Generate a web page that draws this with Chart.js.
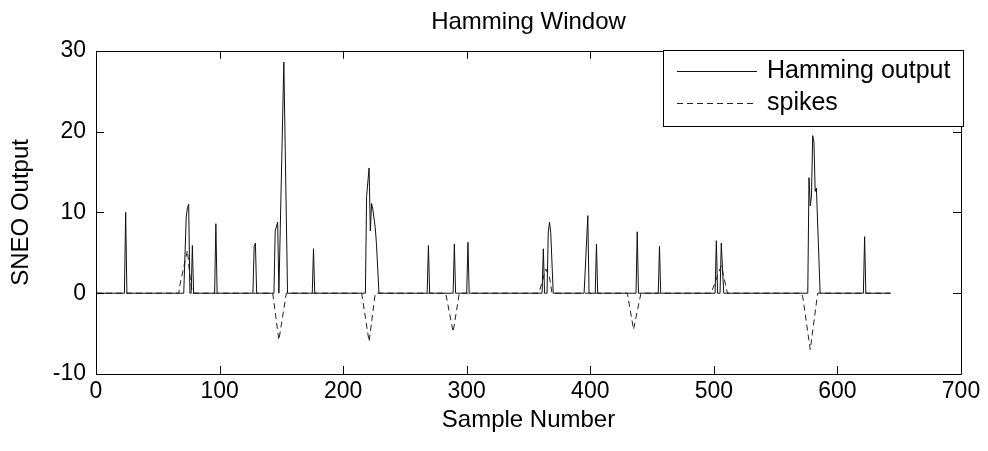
<!DOCTYPE html>
<html>
<head>
<meta charset="utf-8">
<title>Hamming Window</title>
<script src="https://cdn.jsdelivr.net/npm/chart.js@4/dist/chart.umd.min.js"></script>
<style>
  html, body { margin: 0; padding: 0; background: #fff; }
  #wrap { width: 988px; height: 451px; }
</style>
</head>
<body>
<div id="wrap"><canvas id="chart" width="988" height="451"></canvas></div>
<script>
// SNEO output after Hamming-window smoothing (sample number, value)
const hammingX = [
  0, 23, 24, 25,
  71, 73, 74, 75, 76, 77, 78, 79,
  96, 97, 98,
  127, 128, 129, 130,
  144, 145, 147, 148, 152, 155,
  175, 176, 177,
  218, 219, 221, 222, 223, 224, 226, 227, 229,
  268, 269, 270,
  289, 290, 291,
  300, 301, 302,
  361, 362, 363, 365, 366, 367, 368, 370,
  395, 398, 399,
  404, 405, 406,
  437, 438, 439,
  455, 456, 457,
  501, 502, 503, 505, 506, 508,
  576, 577, 578, 579, 580, 581, 582, 583, 586,
  621, 622, 623,
  643
];
const hammingY = [
  0, 0, 10, 0,
  0, 9.4, 10.6, 11, 0, 0, 5.9, 0,
  0, 8.6, 0,
  0, 5.8, 6.2, 0,
  0, 7.7, 8.8, 0, 28.6, 0,
  0, 5.5, 0,
  0, 12, 15.5, 7.7, 11.1, 10.4, 8.1, 6, 0,
  0, 5.9, 0,
  0, 6.1, 0,
  0, 6.3, 0,
  0, 5.5, 0, 0, 7.6, 8.8, 7.5, 0,
  0, 9.6, 0,
  0, 6.1, 0,
  0, 7.6, 0,
  0, 5.8, 0,
  0, 6.5, 0, 0, 6.2, 0,
  0, 14.3, 10.8, 12, 19.5, 18.7, 12.6, 13, 0,
  0, 7, 0,
  0
];

// Reference spike waveforms (sample number, value)
const spikesX = [
  0, 67, 68, 74, 76, 78,
  143, 148, 153, 154,
  215, 221, 225, 226,
  283, 289, 294,
  358, 359, 364, 367, 369,
  430, 435, 441,
  498, 499, 506, 510, 511,
  571, 572, 578, 584,
  643
];
const spikesY = [
  0, 0, 1.1, 5.3, 2, 0,
  0, -5.8, -1, 0,
  0, -6, -1.2, 0,
  0, -4.8, 0,
  0, 0.3, 3.0, 2.0, 0,
  0, -4.5, 0,
  0, 0.5, 3.4, 0.7, 0,
  0, -0.5, -7, 0,
  0
];

const xTicks = [0, 100, 200, 300, 400, 500, 600, 700];
const yTicks = [-10, 0, 10, 20, 30];

const seriesNames = ['Hamming output', 'spikes'];

const FONT = 'Liberation Sans, Arial, sans-serif';

function toPoints(xs, ys) {
  return xs.map((x, i) => ({ x: x, y: ys[i] }));
}

// Boxed axes with inward tick marks on all four sides
const axesBox = {
  id: 'axesBox',
  afterDatasetsDraw(chart) {
    const { ctx, chartArea: a, scales } = chart;
    const len = 8;
    ctx.save();
    ctx.strokeStyle = '#000';
    ctx.lineWidth = 1;
    ctx.beginPath();
    ctx.rect(Math.round(a.left) + 0.5, Math.round(a.top) + 0.5,
             Math.round(a.right - a.left), Math.round(a.bottom - a.top));
    ctx.stroke();
    ctx.beginPath();
    xTicks.forEach(v => {
      const px = Math.round(scales.x.getPixelForValue(v)) + 0.5;
      ctx.moveTo(px, a.bottom); ctx.lineTo(px, a.bottom - len);
      ctx.moveTo(px, a.top); ctx.lineTo(px, a.top + len);
    });
    yTicks.forEach(v => {
      const py = Math.round(scales.y.getPixelForValue(v)) + 0.5;
      ctx.moveTo(a.left, py); ctx.lineTo(a.left + len, py);
      ctx.moveTo(a.right, py); ctx.lineTo(a.right - len, py);
    });
    ctx.stroke();
    ctx.restore();
  }
};

// Boxed legend in the upper right corner
const boxLegend = {
  id: 'boxLegend',
  afterDraw(chart) {
    const { ctx } = chart;
    const bx = 663.5, by = 50.5, bw = 300, bh = 76;
    ctx.save();
    ctx.fillStyle = '#fff';
    ctx.fillRect(bx, by, bw, bh);
    ctx.strokeStyle = '#000';
    ctx.lineWidth = 1;
    ctx.strokeRect(bx, by, bw, bh);
    const rows = [71.5, 103.5];
    chart.data.datasets.forEach((ds, i) => {
      ctx.beginPath();
      ctx.setLineDash(ds.borderDash || []);
      ctx.strokeStyle = ds.borderColor;
      ctx.moveTo(677, rows[i]);
      ctx.lineTo(757, rows[i]);
      ctx.stroke();
      ctx.setLineDash([]);
      ctx.fillStyle = '#000';
      ctx.font = '25px ' + FONT;
      ctx.textBaseline = 'middle';
      ctx.textAlign = 'left';
      ctx.fillText(ds.label, 767, rows[i]);
    });
    ctx.restore();
  }
};

new Chart(document.getElementById('chart'), {
  type: 'line',
  data: {
    datasets: [
      {
        label: seriesNames[0],
        data: toPoints(hammingX, hammingY),
        borderColor: '#111',
        borderWidth: 1,
        pointRadius: 0,
        tension: 0,
        fill: false
      },
      {
        label: seriesNames[1],
        data: toPoints(spikesX, spikesY),
        borderColor: '#222',
        borderWidth: 1,
        borderDash: [6, 4],
        pointRadius: 0,
        tension: 0,
        fill: false
      }
    ]
  },
  options: {
    responsive: false,
    animation: false,
    devicePixelRatio: 1,
    layout: { padding: { top: 0, right: 27, bottom: 0, left: 0 } },
    plugins: {
      legend: { display: false },
      tooltip: { enabled: false },
      title: {
        display: true,
        fullSize: false,
        text: 'Hamming Window',
        color: '#000',
        font: { family: FONT, size: 24, weight: 'normal' },
        padding: { top: 8, bottom: 14 }
      }
    },
    scales: {
      x: {
        type: 'linear',
        min: 0,
        max: 700,
        afterBuildTicks(scale) { scale.ticks = xTicks.map(v => ({ value: v })); },
        afterFit(scale) { scale.height = 77; },
        grid: { display: false, drawTicks: false },
        border: { display: false },
        ticks: {
          color: '#000',
          padding: 4,
          maxRotation: 0,
          font: { family: FONT, size: 23 }
        },
        title: {
          display: true,
          text: 'Sample Number',
          color: '#000',
          font: { family: FONT, size: 24 },
          padding: { top: 0, bottom: 16 }
        }
      },
      y: {
        min: -10,
        max: 30,
        afterBuildTicks(scale) { scale.ticks = yTicks.map(v => ({ value: v })); },
        afterFit(scale) { scale.width = 96; },
        grid: { display: false, drawTicks: false },
        border: { display: false },
        ticks: {
          color: '#000',
          padding: 10,
          font: { family: FONT, size: 23 }
        },
        title: {
          display: true,
          text: 'SNEO Output',
          color: '#000',
          font: { family: FONT, size: 24 },
          padding: { top: 7, bottom: 0 }
        }
      }
    }
  },
  plugins: [axesBox, boxLegend]
});
</script>
</body>
</html>
